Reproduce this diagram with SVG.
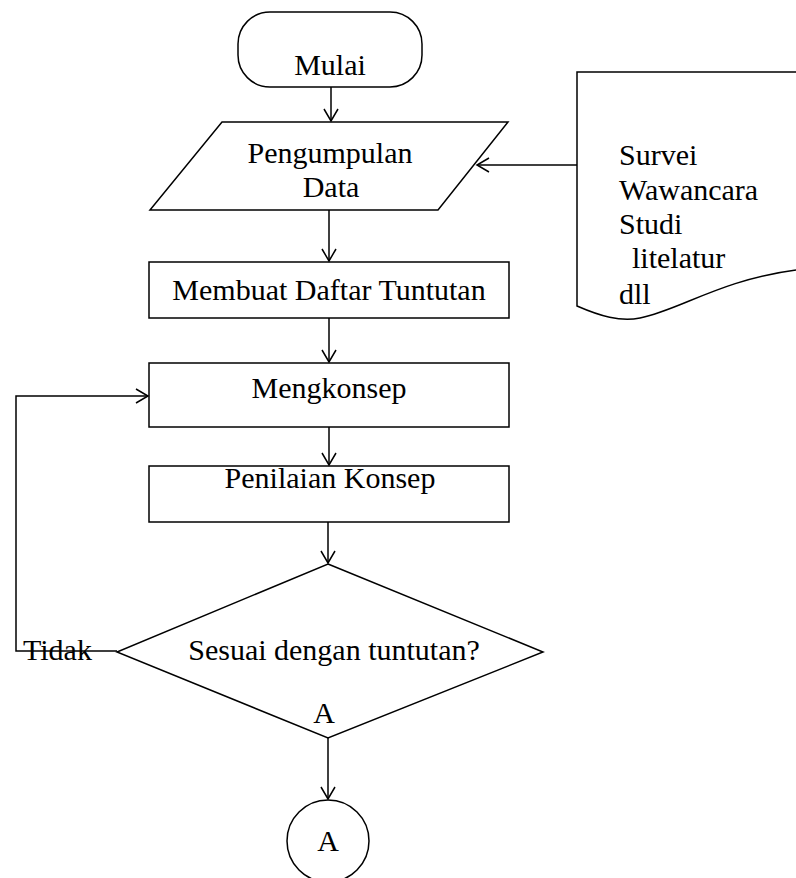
<svg xmlns="http://www.w3.org/2000/svg" width="796" height="878" viewBox="0 0 796 878">
<defs>
<marker id="arr" markerUnits="userSpaceOnUse" markerWidth="20" markerHeight="20" refX="0" refY="0" viewBox="-15 -10 20 20" orient="auto" overflow="visible">
<path d="M-12,-7 L0,0 L-12,7" fill="none" stroke="#000" stroke-width="1.5"/>
</marker>
<style>
.s{fill:#fff;stroke:#000;stroke-width:1.5}
.c{fill:none;stroke:#000;stroke-width:1.5;marker-end:url(#arr)}
.l{fill:none;stroke:#000;stroke-width:1.5}
text{font-family:"Liberation Serif","Times New Roman",serif;font-size:30px;fill:#000}
.m{text-anchor:middle}
</style>
</defs>
<rect width="796" height="878" fill="#fff"/>
<g id="mulai">
<rect class="s" x="238" y="12" width="184" height="75" rx="32" ry="32"/>
<text class="m" x="330" y="75">Mulai</text>
</g>
<g id="pengumpulan">
<polygon class="s" points="222,122 508,122 438,210 150,210"/>
<text class="m" x="330" y="163">Pengumpulan</text>
<text class="m" x="331" y="197">Data</text>
</g>
<g id="dokumen">
<path class="s" d="M796,72 L577,72 L577,306 C600,316 620,322 640,318 C680,310 720,280 796,270"/>
<text x="619" y="165">Survei</text>
<text x="619" y="200">Wawancara</text>
<text x="619" y="234">Studi</text>
<text x="632" y="268">litelatur</text>
<text x="619" y="304">dll</text>
</g>
<g id="daftar">
<rect class="s" x="149" y="262" width="360" height="56"/>
<text class="m" x="329" y="300">Membuat Daftar Tuntutan</text>
</g>
<g id="mengkonsep">
<rect class="s" x="149" y="363" width="360" height="64"/>
<text class="m" x="329" y="398">Mengkonsep</text>
</g>
<g id="penilaian">
<rect class="s" x="149" y="466" width="360" height="56"/>
<text class="m" x="330" y="488">Penilaian Konsep</text>
</g>
<g id="keputusan">
<polygon class="s" points="328,564 543,652 328,738 117,652"/>
<text class="m" x="334" y="660">Sesuai dengan tuntutan?</text>
<text class="m" x="324" y="723">A</text>
</g>
<g id="konektorA">
<circle class="s" cx="328" cy="841" r="41"/>
<text class="m" x="328" y="851">A</text>
</g>
<g id="label-tidak">
<text x="23" y="660">Tidak</text>
</g>
<g id="connectors">
<line class="c" x1="331" y1="87" x2="331" y2="121"/>
<line class="c" x1="577" y1="165" x2="477" y2="165"/>
<line class="c" x1="329" y1="210" x2="329" y2="261"/>
<line class="c" x1="329" y1="318" x2="329" y2="362"/>
<line class="c" x1="329" y1="427" x2="329" y2="465"/>
<line class="c" x1="328" y1="522" x2="328" y2="563"/>
<polyline class="c" points="117,651 16,651 16,396 148,396"/>
<line class="c" x1="328" y1="738" x2="328" y2="799"/>
</g>
</svg>
